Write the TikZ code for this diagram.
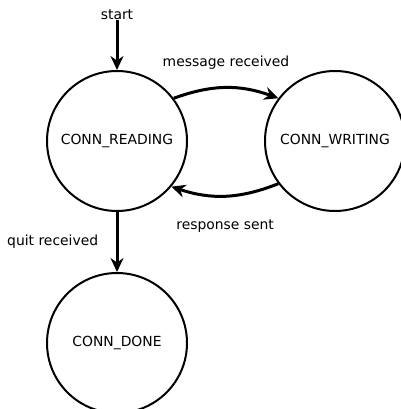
\documentclass[tikz,border=0pt]{standalone}
\usepackage{fontspec}
\setmainfont{DejaVu Sans}
\usetikzlibrary{positioning,arrows.meta}

\begin{document}
\begin{tikzpicture}[
    font=\fontsize{13.9}{16}\selectfont,
    state/.style={circle, draw, line width=2pt, minimum size=140pt, inner sep=0pt},
    trans/.style={-{Stealth[length=14pt, width=13pt]}, line width=3pt},
    node distance=76pt and 76pt,
  ]
  \useasboundingbox (-117pt,-268pt) rectangle (283pt,141pt);

  \node [state] (reading) {CONN\_READING};
  \node [state, right=of reading] (writing) {CONN\_WRITING};
  \node [state, below=60pt of reading] (done) {CONN\_DONE};
  \node [above=50pt of reading, inner sep=0pt] (start) {start};

  \draw [trans] (start) -- (reading);
  \draw [trans] (reading.37) to [bend left=20]
    node [midway, above=14pt] {message received} (writing.143);
  \draw [trans] (writing.217) to [bend left=20]
    node [midway, below=19pt] {response sent} (reading.320);
  \draw [trans] (reading) -- node [midway, left=14pt] {quit received} (done);
\end{tikzpicture}
\end{document}
